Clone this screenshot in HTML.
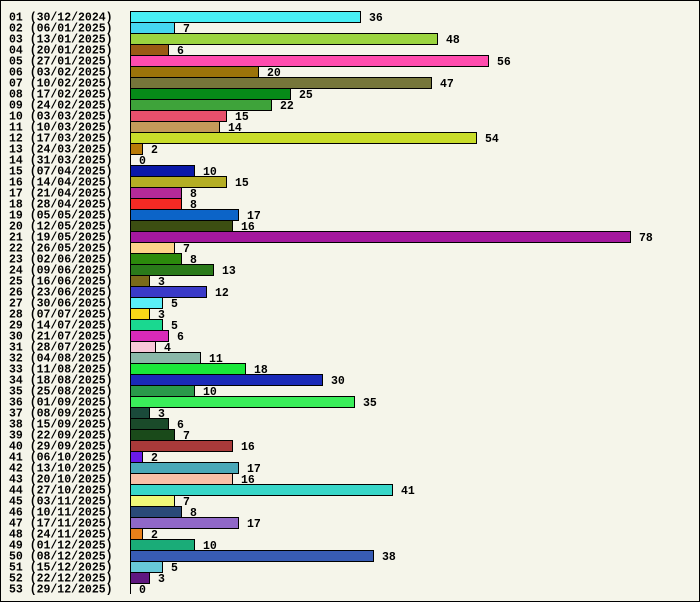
<!DOCTYPE html><html><head><meta charset="utf-8"><style>
body{margin:0;background:#fff}
svg{display:block}
text{font-family:"Liberation Mono",monospace;font-weight:bold;font-size:11.5px;fill:#000}
</style></head><body>
<svg width="700" height="603" xmlns="http://www.w3.org/2000/svg" id="s">
<rect x="0.5" y="0.5" width="699" height="601" fill="#f5f5ea" stroke="#000"/>
</svg>
<script>
const d=[["30/12/2024",36,"#48eef4"],["06/01/2025",7,"#45d7f0"],["13/01/2025",48,"#9bd440"],["20/01/2025",6,"#9a5a14"],["27/01/2025",56,"#ff4cae"],["03/02/2025",20,"#9c740a"],["10/02/2025",47,"#76763a"],["17/02/2025",25,"#068a18"],["24/02/2025",22,"#3ea33a"],["03/03/2025",15,"#e8506c"],["10/03/2025",14,"#c49a5a"],["17/03/2025",54,"#c8dc2a"],["24/03/2025",2,"#b87a08"],["31/03/2025",0,"#fff"],["07/04/2025",10,"#0a18a8"],["14/04/2025",15,"#b4ae24"],["21/04/2025",8,"#b42a98"],["28/04/2025",8,"#f42a24"],["05/05/2025",17,"#0c64c8"],["12/05/2025",16,"#3c4e12"],["19/05/2025",78,"#a4189e"],["26/05/2025",7,"#fcd28a"],["02/06/2025",8,"#2c8a0c"],["09/06/2025",13,"#2a7a1a"],["16/06/2025",3,"#7a6a1a"],["23/06/2025",12,"#3a3ac8"],["30/06/2025",5,"#5aeef8"],["07/07/2025",3,"#f8d818"],["14/07/2025",5,"#1ad890"],["21/07/2025",6,"#d82ab8"],["28/07/2025",4,"#f8c8d8"],["04/08/2025",11,"#8ab8a8"],["11/08/2025",18,"#1ae83a"],["18/08/2025",30,"#1a2ab8"],["25/08/2025",10,"#2a9a4a"],["01/09/2025",35,"#3aee5a"],["08/09/2025",3,"#1a4a3a"],["15/09/2025",6,"#1a4a2a"],["22/09/2025",7,"#1a4a1a"],["29/09/2025",16,"#a83a3a"],["06/10/2025",2,"#6a1ae8"],["13/10/2025",17,"#4aa8b8"],["20/10/2025",16,"#f8c0a8"],["27/10/2025",41,"#38d6c8"],["03/11/2025",7,"#f0f878"],["10/11/2025",8,"#2a4a78"],["17/11/2025",17,"#9068c8"],["24/11/2025",2,"#e8801a"],["01/12/2025",10,"#1aac78"],["08/12/2025",38,"#385cb4"],["15/12/2025",5,"#68c8d8"],["22/12/2025",3,"#601880"],["29/12/2025",0,"#fff"]];
const s=document.getElementById('s');let h='';const k=500/78;
d.forEach((r,i)=>{const y=11+i*11;const n=String(i+1).padStart(2,'0');
h+=`<text x="9" y="${y+9.5}">${n} (${r[0]})</text>`;
const w=Math.floor(r[1]*k);
if(w>0)h+=`<rect x="130.5" y="${y+0.5}" width="${w}" height="11" fill="${r[2]}" stroke="#000"/>`;
else h+=`<line x1="130.5" y1="${y}" x2="130.5" y2="${y+11}" stroke="#000"/>`;
h+=`<text x="${130+w+9}" y="${y+10}">${r[1]}</text>`;});
s.insertAdjacentHTML('beforeend',h);
</script>
</body></html>
